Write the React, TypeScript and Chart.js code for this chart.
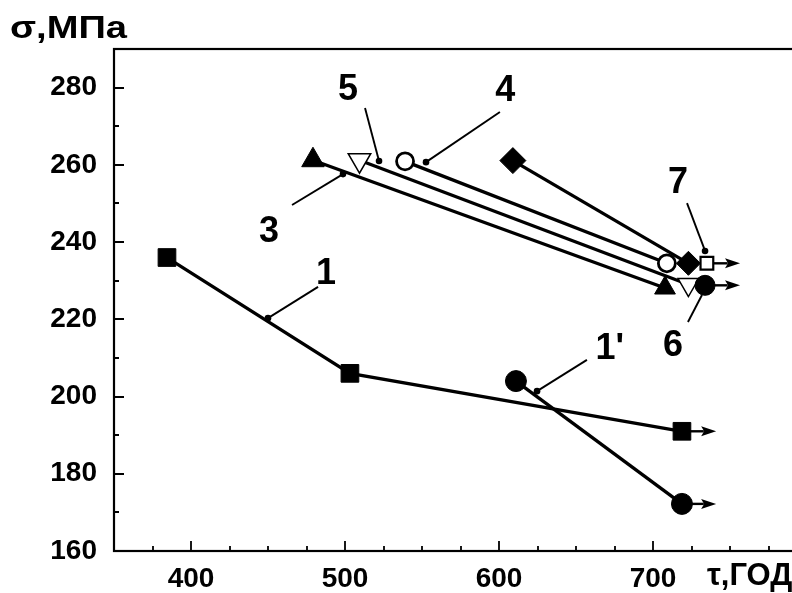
import React, { useEffect, useRef } from 'react';
import { Chart, registerables } from 'chart.js';
Chart.register(...registerables);

// Series values (x: τ, years; y: σ, MPa)
const s1X = [384.4, 503.2, 718.8];
const s1Y = [236, 206, 191];
const s1pX = [611, 718.8];
const s1pY = [204, 172.2];
const s3X = [479.2, 707.8];
const s3Y = [261.2, 228.1];
const s5X = [509.4, 723];
const s5Y = [261.2, 229];
const s4X = [539, 709];
const s4Y = [260.9, 234.5];
const sDX = [609, 723];
const sDY = [261.1, 234.5];
const s7X = [735];
const s7Y = [234.5];
const s6X = [733.8];
const s6Y = [228.8];

// Arrows (continuing tests)
const arrowFromX = [718.8, 718.8, 735, 733.8];
const arrowFromY = [191, 172.2, 234.5, 228.8];
const arrowTipX = [741, 741, 756.5, 756.5];

// Leader lines for curve labels
const leaderFromX = [450, 624.7, 498.7, 522.1, 552.6, 733.8, 731.8];
const leaderFromY = [220.3, 201.4, 257.6, 261, 260.7, 237.7, 226.3];
const leaderToX = [482.5, 657.1, 465.6, 513, 600.6, 722.1, 722.7];
const leaderToY = [228.4, 209.5, 249.6, 274.7, 273.7, 250.1, 219.3];
const leaderDot = [true, true, true, true, true, true, false];

// Curve labels
const labelText = ['1', "1'", '3', '5', '4', '7', '6'];
const labelX = [487.7, 672, 450.6, 502, 604, 716.2, 713];
const labelY = [232.5, 213, 243.4, 280.1, 279.9, 256.1, 213.9];

// Axes
const xMin = 350, xMax = 800, xStep = 25;
const yMin = 160, yMax = 290, yStep = 10;
const xLabelTicks = [400, 500, 600, 700];
const yLabelTicks = [160, 180, 200, 220, 240, 260, 280];
const yTitle = 'σ,МПа';
const xTitle = 'τ,ГОД';

const FONT = "'Liberation Sans', Arial, sans-serif";

const pts = (xs: number[], ys: number[]) => xs.map((x, i) => ({ x, y: ys[i] }));

const decor = {
  id: 'decor',
  afterDatasetsDraw(chart: any) {
    const ctx = chart.ctx;
    const xs = chart.scales.x;
    const ys = chart.scales.y;
    ctx.save();
    // arrowheads
    ctx.fillStyle = '#000';
    arrowTipX.forEach((tx, i) => {
      const px = xs.getPixelForValue(tx);
      const py = ys.getPixelForValue(arrowFromY[i]);
      ctx.beginPath();
      ctx.moveTo(px, py);
      ctx.lineTo(px - 15, py - 5);
      ctx.lineTo(px - 12, py);
      ctx.lineTo(px - 15, py + 5);
      ctx.closePath();
      ctx.fill();
    });
    // labels
    const fs = 36;
    ctx.font = `bold ${fs}px ${FONT}`;
    ctx.textAlign = 'center';
    ctx.textBaseline = 'alphabetic';
    labelText.forEach((t, i) => {
      const px = xs.getPixelForValue(labelX[i]);
      const py = ys.getPixelForValue(labelY[i]);
      ctx.fillText(t, px, py + 0.358 * fs);
    });
    ctx.restore();
  },
  afterDraw(chart: any) {
    const ctx = chart.ctx;
    const a = chart.chartArea;
    const xs = chart.scales.x;
    const ys = chart.scales.y;
    ctx.save();
    ctx.strokeStyle = '#000';
    ctx.lineWidth = 2.2;
    ctx.strokeRect(a.left, a.top, a.right - a.left, a.bottom - a.top);
    ctx.lineWidth = 1.8;
    ctx.beginPath();
    xs.ticks.forEach((t: any) => {
      const px = Math.round(xs.getPixelForValue(t.value));
      const len = t.value % 100 === 0 ? 10 : 5;
      ctx.moveTo(px, a.bottom);
      ctx.lineTo(px, a.bottom - len);
    });
    ys.ticks.forEach((t: any) => {
      const py = Math.round(ys.getPixelForValue(t.value));
      const len = t.value % 20 === 0 ? 10 : 5;
      ctx.moveTo(a.left, py);
      ctx.lineTo(a.left + len, py);
    });
    ctx.stroke();
    // axis titles
    ctx.fillStyle = '#000';
    ctx.textAlign = 'left';
    ctx.textBaseline = 'alphabetic';
    ctx.font = `bold 31px ${FONT}`;
    const w = ctx.measureText(yTitle).width;
    ctx.save();
    ctx.translate(10, 38);
    ctx.scale(117 / w, 1);
    ctx.fillText(yTitle, 0, 0);
    ctx.restore();
    ctx.fillText(xTitle, 707, 585);
    ctx.restore();
  },
};

export default function App() {
  const ref = useRef<HTMLCanvasElement | null>(null);
  useEffect(() => {
    if (!ref.current) return;
    const lineDs = (xs: number[], ys: number[], extra: any) => ({
      data: pts(xs, ys),
      showLine: true,
      borderColor: '#000',
      borderWidth: 3.3,
      pointBorderColor: '#000',
      pointBackgroundColor: '#000',
      pointBorderWidth: 1,
      ...extra,
    });
    const datasets: any[] = [
      lineDs(s7X, s7Y, { pointStyle: 'rect', pointRadius: 9, pointBackgroundColor: '#fff', pointBorderWidth: 2.2 }),
      lineDs(s6X, s6Y, { pointStyle: 'circle', pointRadius: 10 }),
      lineDs(sDX, sDY, { pointStyle: 'rectRot', pointRadius: [13, 12] }),
      lineDs(s4X, s4Y, { pointStyle: 'circle', pointRadius: 8.5, pointBackgroundColor: '#fff', pointBorderWidth: 2.8 }),
      lineDs(s5X, s5Y, { pointStyle: 'triangle', pointRotation: 180, pointRadius: [13, 12], pointBackgroundColor: '#fff', pointBorderWidth: 1.5 }),
      lineDs(s3X, s3Y, { pointStyle: 'triangle', pointRadius: [13, 12] }),
      lineDs(s1pX, s1pY, { pointStyle: 'circle', pointRadius: 10.5 }),
      lineDs(s1X, s1Y, { pointStyle: 'rect', pointRadius: 12.5 }),
    ];
    arrowFromX.forEach((fx, i) => {
      datasets.push({
        data: [{ x: fx, y: arrowFromY[i] }, { x: arrowTipX[i] - 8, y: arrowFromY[i] }],
        showLine: true,
        borderColor: '#000',
        borderWidth: 2.4,
        pointRadius: 0,
      });
    });
    leaderFromX.forEach((fx, i) => {
      datasets.push({
        data: [{ x: fx, y: leaderFromY[i] }, { x: leaderToX[i], y: leaderToY[i] }],
        showLine: true,
        borderColor: '#000',
        borderWidth: 1.9,
        pointStyle: 'circle',
        pointRadius: [leaderDot[i] ? 3.3 : 0, 0],
        pointBackgroundColor: '#000',
        pointBorderWidth: 0,
      });
    });
    const chart = new Chart(ref.current, {
      type: 'scatter',
      data: { datasets },
      plugins: [decor],
      options: {
        animation: false,
        responsive: false,
        events: [],
        layout: { padding: { top: 49, right: 23, left: 0, bottom: 0 } },
        plugins: { legend: { display: false }, tooltip: { enabled: false }, title: { display: false } },
        scales: {
          x: {
            type: 'linear',
            min: xMin,
            max: xMax,
            grid: { display: false, drawTicks: false },
            border: { display: false },
            afterFit: (s: any) => { s.height = 42; },
            ticks: {
              stepSize: xStep,
              autoSkip: false,
              maxRotation: 0,
              padding: 11,
              color: '#000',
              font: { family: FONT, size: 28, weight: 'bold' },
              callback: (v: any) => (xLabelTicks.includes(Number(v)) ? String(v) : ''),
            },
          },
          y: {
            type: 'linear',
            min: yMin,
            max: yMax,
            grid: { display: false, drawTicks: false },
            border: { display: false },
            afterFit: (s: any) => { s.width = 114; },
            ticks: {
              stepSize: yStep,
              autoSkip: false,
              padding: 17,
              color: '#000',
              font: { family: FONT, size: 28, weight: 'bold' },
              callback: (v: any) => (yLabelTicks.includes(Number(v)) ? String(v) : ''),
            },
          },
        },
      } as any,
    });
    return () => chart.destroy();
  }, []);
  return (
    <div style={{ position: 'fixed', left: 0, top: 0, width: 792, height: 593, overflow: 'hidden', background: '#fff' }}>
      <canvas ref={ref} width={830} height={593} style={{ display: 'block', width: 830, height: 593 }} />
    </div>
  );
}
